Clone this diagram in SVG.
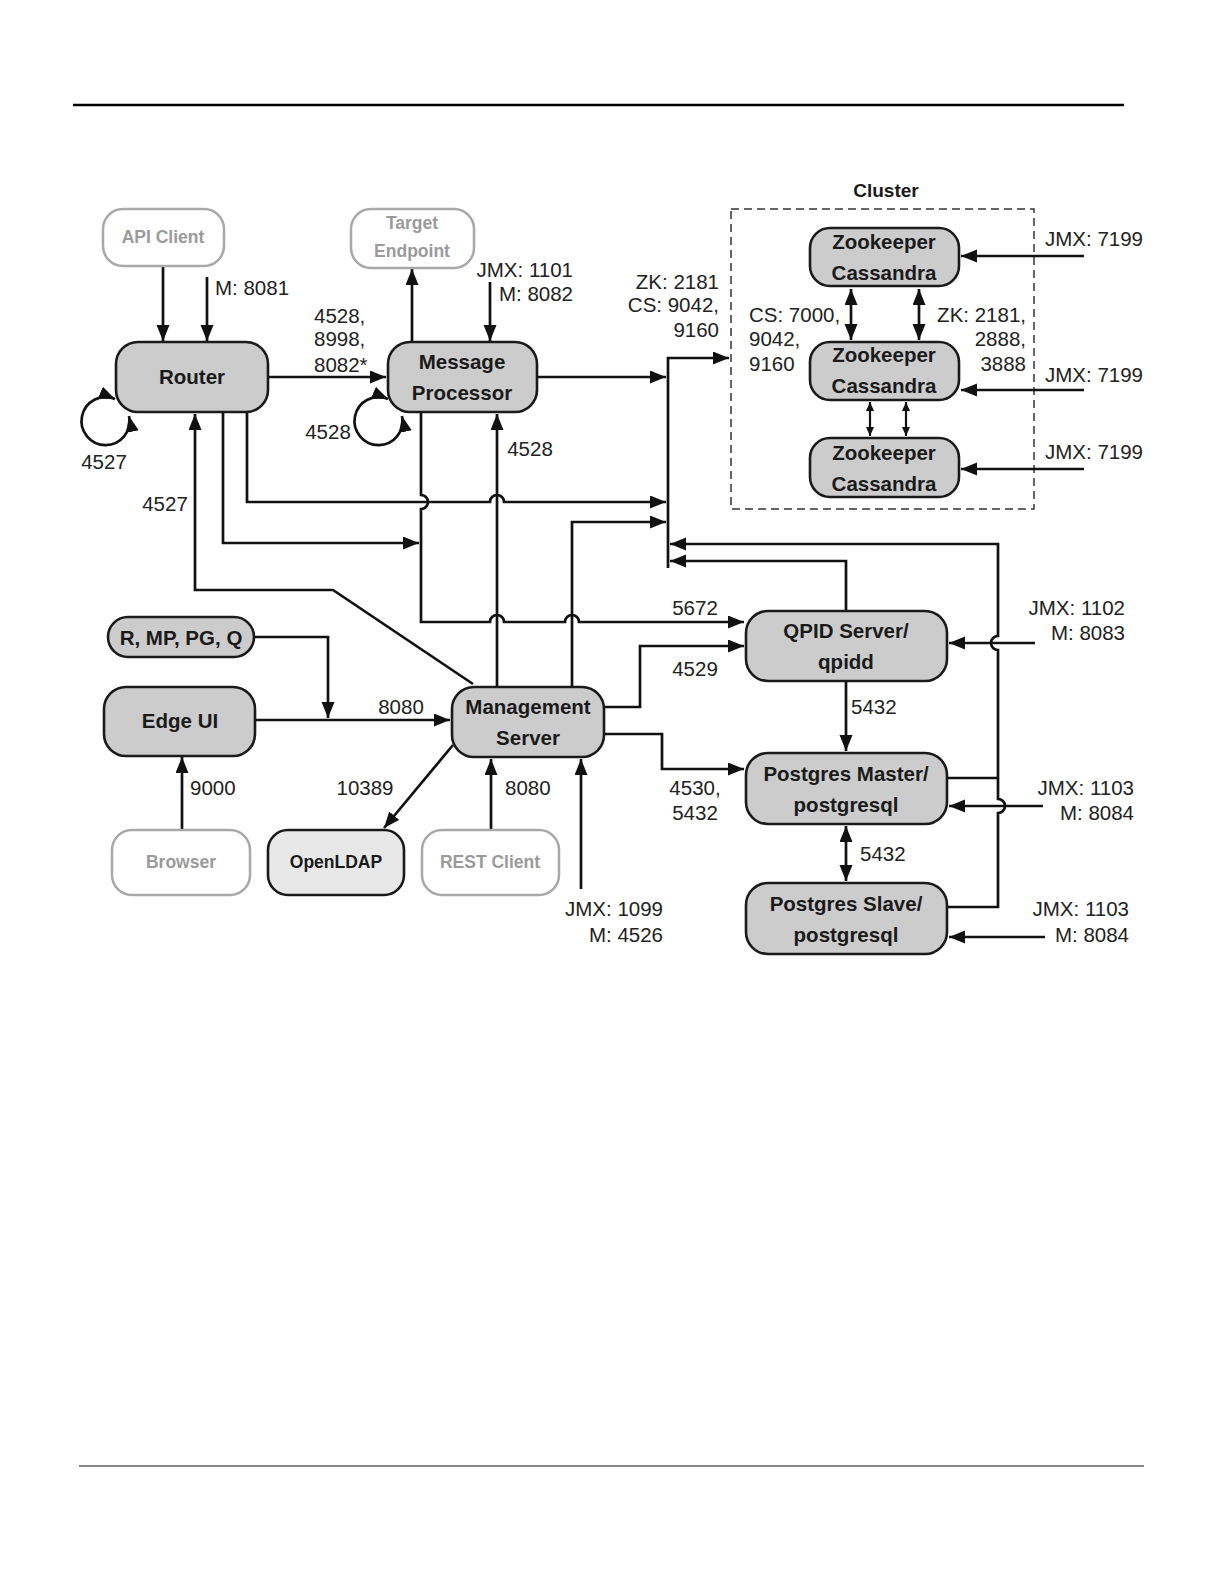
<svg xmlns="http://www.w3.org/2000/svg" width="1224" height="1584" viewBox="0 0 1224 1584">
<style>
.bg{fill:#ffffff}
.n rect{fill:#cccccc;stroke:#1a1a1a;stroke-width:2.6}
.g rect{fill:#ffffff;stroke:#a8a8a8;stroke-width:2.5}
.l rect{fill:#e8e8e8;stroke:#1a1a1a;stroke-width:2.6}
.nt{font-family:"Liberation Sans",Arial,sans-serif;font-weight:bold;font-size:20.5px;fill:#1a1a1a;text-anchor:middle}
.gt{font-family:"Liberation Sans",Arial,sans-serif;font-weight:bold;font-size:17.5px;fill:#9a9a9a;text-anchor:middle}
.lt{font-family:"Liberation Sans",Arial,sans-serif;font-weight:bold;font-size:17.5px;fill:#1a1a1a;text-anchor:middle}
.lb{font-family:"Liberation Sans",Arial,sans-serif;font-size:20.5px;fill:#222}
.r{text-anchor:end}
.m{text-anchor:middle}
.c path{fill:none;stroke:#111;stroke-width:2.7}
.c .a{marker-end:url(#ah)}
.c .b{marker-start:url(#ah);marker-end:url(#ah)}
.c .s{marker-start:url(#as);marker-end:url(#as);stroke-width:2.2}
</style>
<defs>
<marker id="ah" markerUnits="userSpaceOnUse" markerWidth="18" markerHeight="15" refX="16" refY="6.5" orient="auto-start-reverse" viewBox="0 0 18 15">
<path d="M0,0 L16,6.5 L0,13 z" fill="#111"/>
</marker>
<marker id="as" markerUnits="userSpaceOnUse" markerWidth="11" markerHeight="10" refX="9" refY="4" orient="auto-start-reverse" viewBox="0 0 11 10">
<path d="M0,0 L9,4 L0,8 z" fill="#111"/>
</marker>
</defs>
<rect class="bg" x="0" y="0" width="1224" height="1584"/>
<line x1="73" y1="105" x2="1124" y2="105" stroke="#000" stroke-width="2.5"/>
<line x1="79" y1="1466" x2="1144" y2="1466" stroke="#888" stroke-width="2"/>

<g id="cluster">
<rect x="731" y="209" width="303" height="300" fill="none" stroke="#333" stroke-width="1.5" stroke-dasharray="8,5"/>
<text class="nt" x="886" y="197" style="font-size:19px">Cluster</text>
</g>

<g class="c" id="connectors">
<path class="a" d="M163,266 V341"/>
<path class="a" d="M207,277 V341"/>
<path class="a" d="M268,377 H386"/>
<path class="a" d="M412,342 V269"/>
<path class="a" d="M490,282 V341"/>
<path class="a" d="M537,377 H666"/>
<path class="a" d="M668,568 V358 H729"/>
<path class="b" d="M129,416 A24 24 0 1 1 115,399"/>
<path class="b" d="M402,416 A24 24 0 1 1 388,399"/>
<path class="a" d="M473,684 L333,590 H195 V414"/>
<path class="a" d="M223,412 V543 H419"/>
<path class="a" d="M247,412 V502 H490 A7 7 0 0 1 504,502 H666"/>
<path class="a" d="M421,412 V495 A7 7 0 0 1 421,509 V622 H490 A7 7 0 0 1 504,622 H565 A7 7 0 0 1 579,622 H744"/>
<path class="a" d="M497,687 V414"/>
<path class="a" d="M572,687 V522 H666"/>
<path class="a" d="M604,707 H640 V646 H744"/>
<path class="a" d="M604,734 H662 V769 H744"/>
<path class="a" d="M846,611 V561 H670"/>
<path class="a" d="M947,907 H998 V813 A7 7 0 0 0 998,799 V650 A7 7 0 0 1 998,636 V544 H670"/>
<path d="M947,778 H998"/>
<path class="a" d="M846,682 V751"/>
<path class="b" d="M846,826 V881"/>
<path class="a" d="M1035,643 H949"/>
<path class="a" d="M1043,806 H949"/>
<path class="a" d="M1045,937 H949"/>
<path class="a" d="M1084,256 H961"/>
<path class="a" d="M1084,390 H961"/>
<path class="a" d="M1084,469 H961"/>
<path class="b" d="M851,289 V340"/>
<path class="b" d="M919,289 V340"/>
<path class="s" d="M870,402 V436"/>
<path class="s" d="M906,402 V436"/>
<path class="a" d="M254,637 H328 V718"/>
<path class="a" d="M255,720 H450"/>
<path class="a" d="M182,830 V757"/>
<path class="a" d="M453,745 L384,828"/>
<path class="a" d="M491,830 V759"/>
<path class="a" d="M581,889 V759"/>
</g>

<g id="api-client" class="g"><rect x="103" y="209" width="121" height="57" rx="20"/><text class="gt" x="163" y="243">API Client</text></g>
<g id="router" class="n"><rect x="116" y="342" width="152" height="70" rx="22"/><text class="nt" x="192" y="384">Router</text></g>
<g id="target-endpoint" class="g"><rect x="351" y="209" width="123" height="59" rx="20"/><text class="gt" x="412" y="229">Target</text><text class="gt" x="412" y="257">Endpoint</text></g>
<g id="message-processor" class="n"><rect x="388" y="342" width="149" height="70" rx="22"/><text class="nt" x="462" y="369">Message</text><text class="nt" x="462" y="400">Processor</text></g>
<g id="zk1" class="n"><rect x="810" y="228" width="149" height="58" rx="20"/><text class="nt" x="884" y="249">Zookeeper</text><text class="nt" x="884" y="280">Cassandra</text></g>
<g id="zk2" class="n"><rect x="810" y="342" width="149" height="58" rx="20"/><text class="nt" x="884" y="362">Zookeeper</text><text class="nt" x="884" y="393">Cassandra</text></g>
<g id="zk3" class="n"><rect x="810" y="438" width="149" height="59" rx="20"/><text class="nt" x="884" y="460">Zookeeper</text><text class="nt" x="884" y="491">Cassandra</text></g>
<g id="rmppgq" class="n"><rect x="108" y="617" width="146" height="40" rx="20"/><text class="nt" x="181" y="645">R, MP, PG, Q</text></g>
<g id="edge-ui" class="n"><rect x="104" y="687" width="151" height="69" rx="22"/><text class="nt" x="180" y="728">Edge UI</text></g>
<g id="management-server" class="n"><rect x="452" y="687" width="152" height="70" rx="22"/><text class="nt" x="528" y="714">Management</text><text class="nt" x="528" y="745">Server</text></g>
<g id="qpid" class="n"><rect x="746" y="611" width="201" height="70" rx="22"/><text class="nt" x="846" y="638">QPID Server/</text><text class="nt" x="846" y="669">qpidd</text></g>
<g id="pg-master" class="n"><rect x="746" y="753" width="201" height="71" rx="22"/><text class="nt" x="846" y="781">Postgres Master/</text><text class="nt" x="846" y="812">postgresql</text></g>
<g id="pg-slave" class="n"><rect x="746" y="883" width="201" height="71" rx="22"/><text class="nt" x="846" y="911">Postgres Slave/</text><text class="nt" x="846" y="942">postgresql</text></g>
<g id="browser" class="g"><rect x="112" y="830" width="138" height="65" rx="20"/><text class="gt" x="181" y="868">Browser</text></g>
<g id="openldap" class="l"><rect x="268" y="830" width="136" height="65" rx="20"/><text class="lt" x="336" y="868">OpenLDAP</text></g>
<g id="rest-client" class="g"><rect x="422" y="830" width="137" height="65" rx="20"/><text class="gt" x="490" y="868">REST Client</text></g>

<g id="labels">
<text class="lb" x="215" y="295">M: 8081</text>
<text class="lb" x="314" y="323">4528,</text>
<text class="lb" x="314" y="346">8998,</text>
<text class="lb" x="314" y="372">8082*</text>
<text class="lb r" x="573" y="277">JMX: 1101</text>
<text class="lb r" x="573" y="301">M: 8082</text>
<text class="lb m" x="328" y="439">4528</text>
<text class="lb m" x="104" y="469">4527</text>
<text class="lb m" x="165" y="511">4527</text>
<text class="lb m" x="530" y="456">4528</text>
<text class="lb r" x="719" y="289">ZK: 2181</text>
<text class="lb r" x="719" y="312">CS: 9042,</text>
<text class="lb r" x="719" y="337">9160</text>
<text class="lb" x="749" y="322">CS: 7000,</text>
<text class="lb" x="749" y="346">9042,</text>
<text class="lb" x="749" y="371">9160</text>
<text class="lb r" x="1026" y="322">ZK: 2181,</text>
<text class="lb r" x="1026" y="346">2888,</text>
<text class="lb r" x="1026" y="371">3888</text>
<text class="lb" x="1045" y="246">JMX: 7199</text>
<text class="lb" x="1045" y="382">JMX: 7199</text>
<text class="lb" x="1045" y="459">JMX: 7199</text>
<text class="lb m" x="695" y="615">5672</text>
<text class="lb m" x="695" y="676">4529</text>
<text class="lb m" x="695" y="795">4530,</text>
<text class="lb m" x="695" y="820">5432</text>
<text class="lb r" x="1125" y="615">JMX: 1102</text>
<text class="lb r" x="1125" y="640">M: 8083</text>
<text class="lb" x="851" y="714">5432</text>
<text class="lb" x="860" y="861">5432</text>
<text class="lb r" x="1134" y="795">JMX: 1103</text>
<text class="lb r" x="1134" y="820">M: 8084</text>
<text class="lb r" x="1129" y="916">JMX: 1103</text>
<text class="lb r" x="1129" y="942">M: 8084</text>
<text class="lb m" x="401" y="714">8080</text>
<text class="lb" x="190" y="795">9000</text>
<text class="lb m" x="365" y="795">10389</text>
<text class="lb" x="505" y="795">8080</text>
<text class="lb r" x="663" y="916">JMX: 1099</text>
<text class="lb r" x="663" y="942">M: 4526</text>
</g>
</svg>
